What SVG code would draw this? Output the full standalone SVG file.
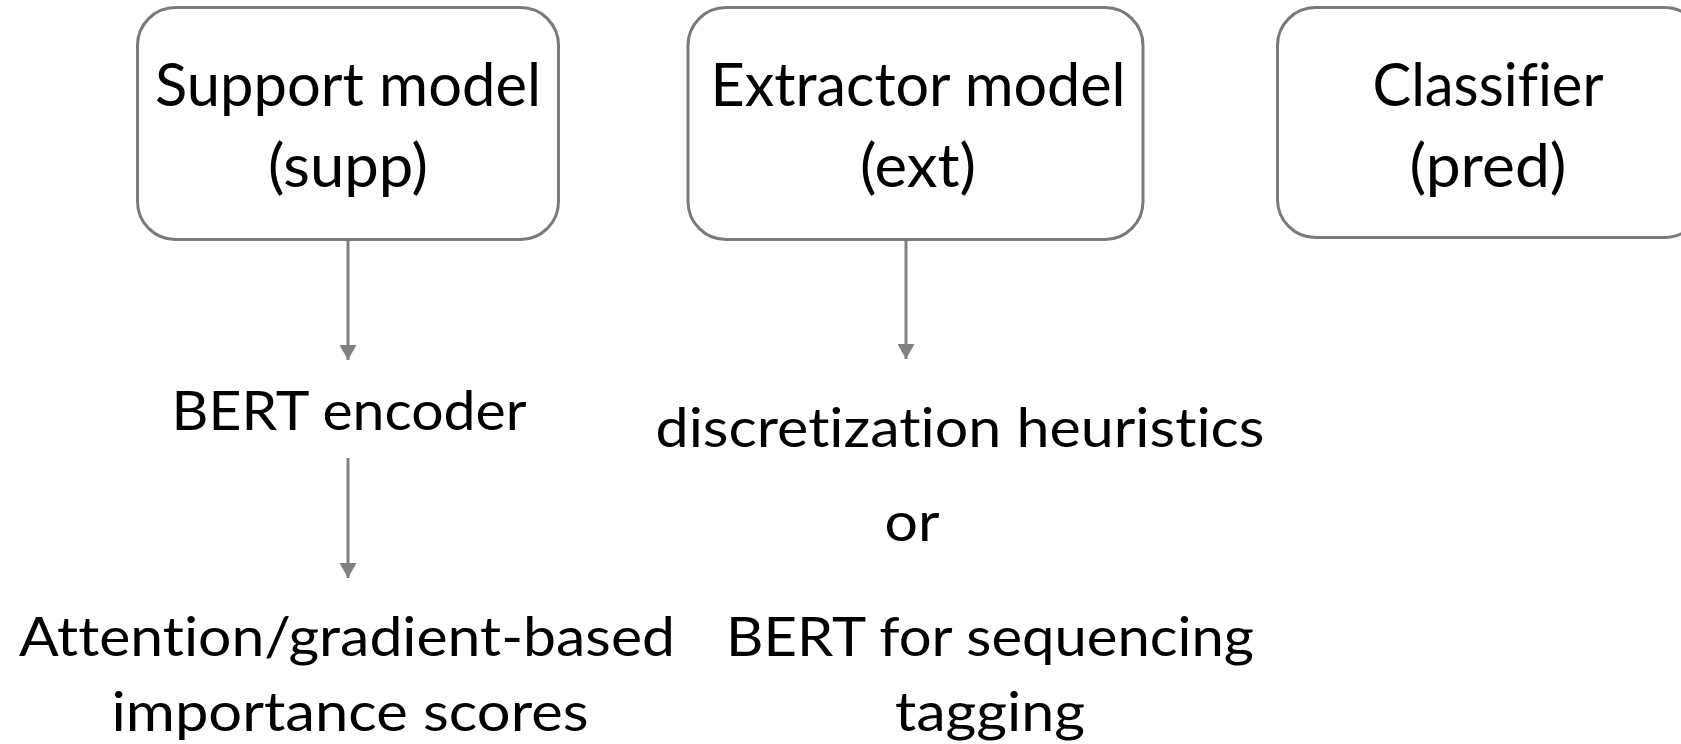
<svg xmlns="http://www.w3.org/2000/svg" width="1681" height="744" viewBox="0 0 1681 744">
  <style>
    .box { fill: #ffffff; stroke: #7a7a7a; stroke-width: 3; }
    .big { font-family: Lato, "Liberation Sans", sans-serif; font-size: 60px; fill: #000000; text-anchor: middle; font-variant-ligatures: none; }
    .txt { font-family: Lato, "Liberation Sans", sans-serif; font-size: 54px; fill: #000000; text-anchor: middle; font-variant-ligatures: none; }
    .link { stroke: #808080; stroke-width: 3; fill: none; }
  </style>
  <defs>
    <marker id="arrow" viewBox="0 0 15 17" refX="15" refY="8.5" markerWidth="15" markerHeight="17" markerUnits="userSpaceOnUse" orient="auto">
      <path d="M0,0 L15,8.5 L0,17 z" fill="#808080"/>
    </marker>
  </defs>
  <rect width="1681" height="744" fill="#ffffff"/>

  <!-- connectors -->
  <g id="connectors">
    <line class="link" x1="348" y1="240" x2="348" y2="360" marker-end="url(#arrow)"/>
    <line class="link" x1="348" y1="458" x2="348" y2="578" marker-end="url(#arrow)"/>
    <line class="link" x1="906" y1="240" x2="906" y2="359" marker-end="url(#arrow)"/>
  </g>

  <!-- model boxes -->
  <g id="support-model">
    <rect class="box" x="137.5" y="7.5" width="421" height="232" rx="38" ry="38"/>
    <text class="big" x="348" y="106" textLength="386" lengthAdjust="spacingAndGlyphs">Support model</text>
    <text class="big" x="348" y="187" textLength="160" lengthAdjust="spacingAndGlyphs">(supp)</text>
  </g>
  <g id="extractor-model">
    <rect class="box" x="688" y="7.5" width="455" height="232" rx="38" ry="38"/>
    <text class="big" x="918" y="106" textLength="415" lengthAdjust="spacingAndGlyphs">Extractor model</text>
    <text class="big" x="918" y="187" textLength="116" lengthAdjust="spacingAndGlyphs">(ext)</text>
  </g>
  <g id="classifier">
    <rect class="box" x="1277.5" y="7.5" width="425" height="230" rx="38" ry="38"/>
    <text class="big" x="1488" y="106" textLength="231" lengthAdjust="spacingAndGlyphs">Classifier</text>
    <text class="big" x="1488" y="187" textLength="157" lengthAdjust="spacingAndGlyphs">(pred)</text>
  </g>

  <!-- method labels -->
  <g id="bert-encoder">
    <text class="txt" x="349" y="430" textLength="355" lengthAdjust="spacingAndGlyphs">BERT encoder</text>
  </g>
  <g id="importance-scores">
    <text class="txt" x="347" y="656" textLength="656" lengthAdjust="spacingAndGlyphs">Attention/gradient-based</text>
    <text class="txt" x="350" y="731" textLength="477" lengthAdjust="spacingAndGlyphs">importance scores</text>
  </g>
  <g id="extractor-options">
    <text class="txt" x="960" y="447" textLength="609" lengthAdjust="spacingAndGlyphs">discretization heuristics</text>
    <text class="txt" x="912" y="541" textLength="55" lengthAdjust="spacingAndGlyphs">or</text>
    <text class="txt" x="990" y="656" textLength="528" lengthAdjust="spacingAndGlyphs">BERT for sequencing</text>
    <text class="txt" x="990" y="731" textLength="190" lengthAdjust="spacingAndGlyphs">tagging</text>
  </g>
</svg>
